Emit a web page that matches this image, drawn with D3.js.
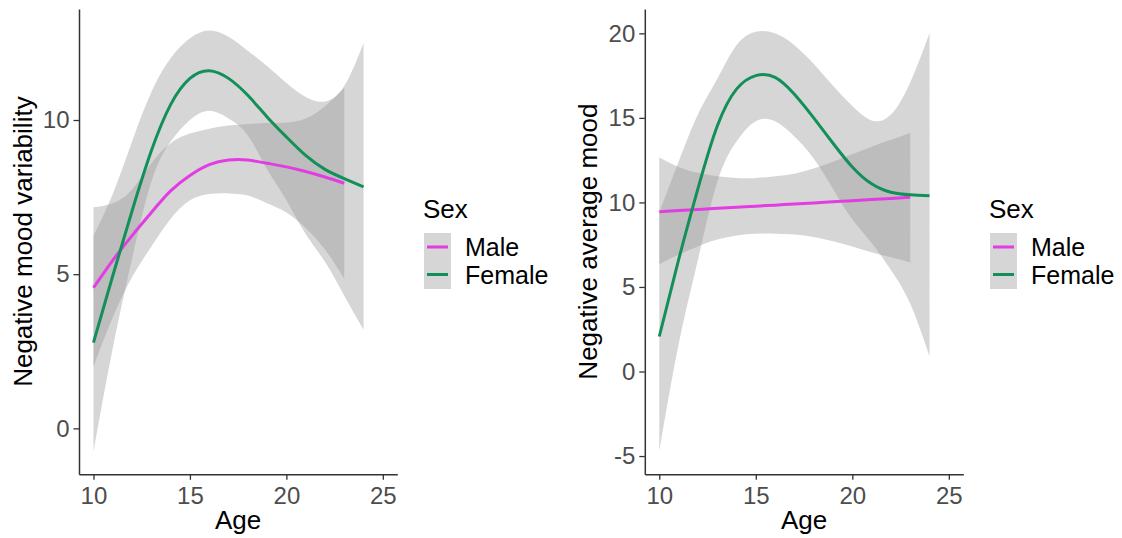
<!DOCTYPE html>
<html>
<head>
<meta charset="utf-8">
<script src="https://cdn.jsdelivr.net/npm/d3@7"></script>
<style>
  body { margin: 0; background: #fff; }
  svg { font-family: "Liberation Sans", Arial, sans-serif; }
</style>
</head>
<body>
<svg width="1122" height="538"></svg>
<script>
// ages of the smoothed curves
var maleAges = [10, 11, 12, 13, 14, 15, 16, 17, 18, 19, 20, 21, 22, 23];
var femaleAges = [10, 11, 12, 13, 14, 15, 16, 17, 18, 19, 20, 21, 22, 23, 24];

// left panel: negative mood variability
var varMale = [4.56, 5.45, 6.25, 7.0, 7.7, 8.2, 8.55, 8.7, 8.7, 8.6, 8.48, 8.33, 8.15, 7.95];
var varMaleHi = [7.17, 7.3, 7.75, 8.6, 9.25, 9.56, 9.72, 9.82, 9.87, 9.9, 9.92, 10.05, 10.45, 11.05];
var varMaleLo = [2.0, 3.6, 4.9, 5.9, 6.8, 7.4, 7.6, 7.62, 7.55, 7.3, 7.0, 6.5, 5.8, 4.85];
var varFemale = [2.78, 4.95, 7.05, 9.0, 10.5, 11.35, 11.6, 11.35, 10.8, 10.1, 9.45, 8.85, 8.4, 8.1, 7.83];
var varFemaleHi = [6.25, 7.6, 9.3, 10.9, 12.0, 12.65, 12.9, 12.7, 12.25, 11.75, 11.2, 10.75, 10.6, 11.1, 12.5];
var varFemaleLo = [-0.75, 2.6, 5.5, 8.0, 9.3, 10.0, 10.3, 10.05, 9.5, 8.4, 7.4, 6.3, 5.4, 4.3, 3.2];

// right panel: negative average mood
var avgMale = [9.45, 9.52, 9.58, 9.65, 9.71, 9.78, 9.84, 9.91, 9.97, 10.04, 10.1, 10.17, 10.23, 10.3];
var avgMaleHi = [12.65, 12.1, 11.75, 11.55, 11.45, 11.45, 11.55, 11.7, 12.0, 12.4, 12.85, 13.3, 13.7, 14.1];
var avgMaleLo = [6.35, 6.9, 7.4, 7.8, 8.05, 8.15, 8.15, 8.1, 7.95, 7.7, 7.4, 7.05, 6.75, 6.45];
var avgFemale = [2.07, 6.6, 10.8, 14.5, 16.7, 17.5, 17.4, 16.4, 15.0, 13.5, 12.1, 11.1, 10.6, 10.45, 10.4];
var avgFemaleHi = [9.4, 12.4, 15.2, 17.3, 19.3, 20.1, 20.0, 19.3, 18.2, 16.9, 15.7, 14.85, 15.2, 17.1, 20.0];
var avgFemaleLo = [-4.7, 1.6, 6.6, 11.2, 13.6, 14.8, 14.8, 13.9, 12.6, 10.8, 9.0, 7.6, 6.0, 4.0, 0.9];

var xTicks = [10, 15, 20, 25];
var varTicks = [0, 5, 10];
var avgTicks = [-5, 0, 5, 10, 15, 20];
var sexes = ["Male", "Female"];
var sexColors = ["#e23de2", "#13905a"];

var svg = d3.select("svg");
svg.append("rect").attr("width", 1122).attr("height", 538).attr("fill", "#fff");

function series(ages, mid, lo, hi) {
  return ages.map(function(a, i) { return { age: a, y: mid[i], lo: lo[i], hi: hi[i] }; });
}

function drawPanel(p) {
  var x = d3.scaleLinear().domain([9.25, 25.75]).range([p.left, p.right]);
  var y = d3.scaleLinear().domain(p.yDomain).range([474.3, 9]);
  var g = svg.append("g");

  var area = d3.area()
    .x(function(d) { return x(d.age); })
    .y0(function(d) { return y(d.lo); })
    .y1(function(d) { return y(d.hi); })
    .curve(d3.curveNatural);
  var line = d3.line()
    .x(function(d) { return x(d.age); })
    .y(function(d) { return y(d.y); })
    .curve(d3.curveNatural);

  p.groups.forEach(function(s) {
    g.append("path").attr("d", area(s)).attr("fill", "#999999").attr("fill-opacity", 0.4);
  });
  p.groups.forEach(function(s, i) {
    g.append("path").attr("d", line(s)).attr("fill", "none")
      .attr("stroke", sexColors[i]).attr("stroke-width", 3);
  });

  var fmt = function(d) { return String(d); };
  var xa = g.append("g").attr("transform", "translate(0,474.3)")
    .call(d3.axisBottom(x).tickValues(xTicks).tickFormat(fmt)
      .tickSize(5.5).tickSizeOuter(0).tickPadding(7));
  var ya = g.append("g").attr("transform", "translate(" + p.left + ",0)")
    .call(d3.axisLeft(y).tickValues(p.yTicks).tickFormat(fmt)
      .tickSize(5.5).tickSizeOuter(0).tickPadding(4));
  [xa, ya].forEach(function(a) {
    a.select(".domain").attr("stroke", "#333").attr("stroke-width", 1.5);
    a.selectAll(".tick line").attr("stroke", "#333").attr("stroke-width", 1.3);
    a.selectAll(".tick text").attr("fill", "#4d4d4d").attr("font-size", 24)
      .attr("font-family", "Liberation Sans, Arial, sans-serif");
  });

  g.append("text").attr("x", (p.left + p.right) / 2).attr("y", 529)
    .attr("text-anchor", "middle").attr("font-size", 26).text("Age");
  g.append("text")
    .attr("transform", "translate(" + p.titleX + ",241.6) rotate(-90)")
    .attr("text-anchor", "middle").attr("font-size", 26).text(p.title);

  // legend
  var lg = g.append("g");
  lg.append("text").attr("x", p.legendX - 1).attr("y", 218).attr("font-size", 26).text("Sex");
  lg.append("rect").attr("x", p.legendX).attr("y", 233).attr("width", 27).attr("height", 56)
    .attr("fill", "#d6d6d6");
  sexes.forEach(function(s, i) {
    var cy = 247 + i * 27.5;
    lg.append("line").attr("x1", p.legendX + 3).attr("x2", p.legendX + 24)
      .attr("y1", cy).attr("y2", cy).attr("stroke", sexColors[i]).attr("stroke-width", 3);
    lg.append("text").attr("x", p.legendX + 41).attr("y", cy + 9)
      .attr("font-size", 25).text(s);
  });
}

drawPanel({
  left: 79, right: 397.3, yDomain: [-1.49, 13.6], yTicks: varTicks,
  title: "Negative mood variability", titleX: 32, legendX: 424,
  groups: [series(maleAges, varMale, varMaleLo, varMaleHi),
           series(femaleAges, varFemale, varFemaleLo, varFemaleHi)]
});
drawPanel({
  left: 644.8, right: 963.3, yDomain: [-6.08, 21.44], yTicks: avgTicks,
  title: "Negative average mood", titleX: 597, legendX: 990,
  groups: [series(maleAges, avgMale, avgMaleLo, avgMaleHi),
           series(femaleAges, avgFemale, avgFemaleLo, avgFemaleHi)]
});
</script>
</body>
</html>
